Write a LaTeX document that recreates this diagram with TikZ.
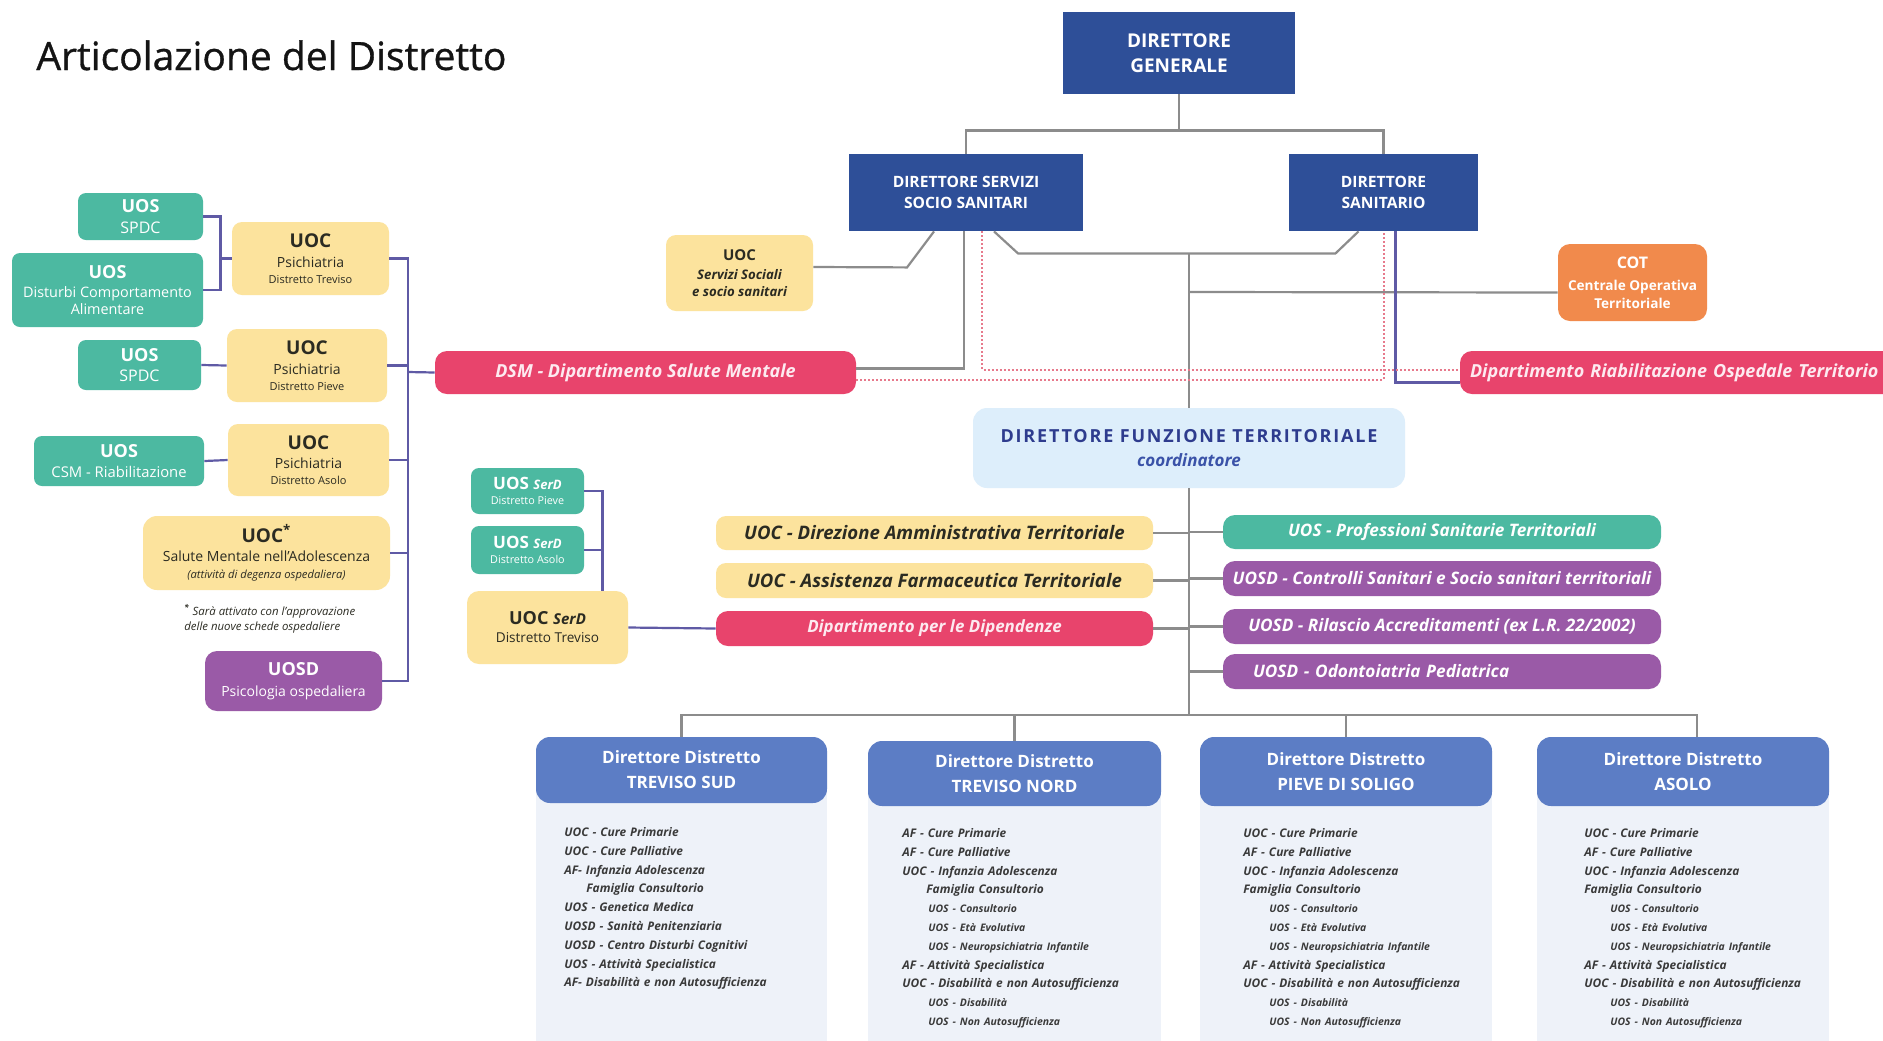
\documentclass[tikz,border=0pt]{standalone}
\usepackage{fontspec}
\setmainfont{Open Sans}
\newfontfamily\titlefont{Open Sans}[FakeBold=0.8]
\usetikzlibrary{calc}
\definecolor{cnavy}{HTML}{2E4F98}
\definecolor{chead}{HTML}{5C7DC5}
\definecolor{cbody}{HTML}{EEF2F9}
\definecolor{cteal}{HTML}{4CB9A1}
\definecolor{cyel}{HTML}{FCE39D}
\definecolor{cpink}{HTML}{E8446C}
\definecolor{cpurp}{HTML}{9A5AA7}
\definecolor{corng}{HTML}{F18A4C}
\definecolor{clblue}{HTML}{DDEEFB}
\definecolor{cgrey}{HTML}{8C8C8C}
\definecolor{cpl}{HTML}{5F5AA5}
\definecolor{cdot}{HTML}{E77A8C}
\definecolor{cdftxt}{HTML}{2E3C8E}
\definecolor{ccoord}{HTML}{3A52A8}
\definecolor{cdark}{HTML}{2B2B22}
\definecolor{cbodytxt}{HTML}{3A3A3A}
\definecolor{cpinktxt}{HTML}{FDEAF0}
\definecolor{ctitle}{HTML}{141414}
\newcommand\fs[2]{\fontsize{#1}{#2}\selectfont}
\newcommand\bx[7]{\node[#6, minimum width={(#4-#2)*0.5pt}, minimum height={(#5-#3)*0.5pt}] (#1) at ({(#2+#4)/2},{(#3+#5)/2}) {#7};}
\newcommand\sbi[1]{\hspace*{13pt}{\fontsize{5.2}{9.4}\selectfont #1}}
\tikzset{
  base/.style={inner sep=0pt, align=center},
  lead/.style={font=\fontsize{7}{#1}\selectfont},
  navy/.style={base, fill=cnavy, text=white},
  yel/.style={base, fill=cyel, rounded corners=5pt, text=cdark},
  tealb/.style={base, fill=cteal, rounded corners=4pt, text=white},
  pinkb/.style={base, fill=cpink, rounded corners=6pt, text=cpinktxt},
  purpb/.style={base, fill=cpurp, rounded corners=5pt, text=white},
  orngb/.style={base, fill=corng, rounded corners=6pt, text=white},
  lblueb/.style={base, fill=clblue, rounded corners=7pt},
  dhead/.style={base, fill=chead, rounded corners=7pt, text=white, font=\bfseries\fs{8.5}{12.6}},
  dtext/.style={anchor=north west, inner sep=0pt, text width=170pt, align=left, font=\bfseries\itshape\fs{5.95}{9.4}, text=cbodytxt},
  gl/.style={draw=cgrey, line width=1.1pt},
  pl/.style={draw=cpl, line width=1.1pt},
  dl/.style={draw=cdot, densely dotted, line width=1pt}
}
\begin{document}
\begin{tikzpicture}[x=0.5pt,y=-0.5pt]
\useasboundingbox (0,0) rectangle (1883,1040);
\clip (0,0) rectangle (1883,1040);
\fill[white] (0,0) rectangle (1883,1040);

% title
\node[anchor=base west, inner sep=0pt, text=ctitle, font=\titlefont\fs{19.5}{23}] (title) at (36,70) {Articolazione del Distretto};

% district bodies
\fill[cbody] (536,770) rectangle (827,1045);
\fill[cbody] (868,773) rectangle (1161,1045);
\fill[cbody] (1200,770) rectangle (1492,1045);
\fill[cbody] (1537,770) rectangle (1829,1045);

% top
\bx{dg}{1063}{12}{1295}{94}{navy,font=\bfseries\fs{9.5}{12.5}}{DIRETTORE\\GENERALE}
\bx{dsss}{849}{154}{1083}{231}{navy,font=\bfseries\fs{7.8}{10.3}}{DIRETTORE SERVIZI\\SOCIO SANITARI}
\bx{ds}{1289}{154}{1478}{231}{navy,font=\bfseries\fs{7.8}{10.3}}{DIRETTORE\\SANITARIO}
\bx{uocss}{666}{235}{813}{311}{yel,lead=8.4}{{\bfseries\fs{7.5}{9}UOC}\\[1.2pt]{\bfseries\itshape\fs{6.6}{8.5}Servizi Sociali}\\{\bfseries\itshape\fs{6.6}{8.5}e socio sanitari}}
\bx{cot}{1558}{244}{1707}{321}{orngb,lead=9}{{\bfseries\fs{8}{10}COT}\\[1.8pt]{\bfseries\fs{6.8}{8}Centrale Operativa}\\{\bfseries\fs{6.8}{8}Territoriale}}
\bx{dsm}{435}{351}{856}{394}{pinkb,font=\bfseries\itshape\fs{9}{10}}{DSM - Dipartimento Salute Mentale}
\bx{dro}{1460}{351}{1900}{394}{pinkb,align=left,text width=210pt,inner xsep=5pt,font=\bfseries\itshape\fs{9}{10}}{Dipartimento Riabilitazione Ospedale Territorio}
\bx{dft}{973}{408}{1405}{488}{lblueb,lead=12}{{\bfseries\color{cdftxt}\fs{9}{12}\addfontfeature{LetterSpace=10}DIRETTORE FUNZIONE TERRITORIALE}\\{\bfseries\itshape\color{ccoord}\fs{8.5}{10}coordinatore}}

% territorial branches
\bx{uocda}{716}{516}{1153}{550}{yel,font=\bfseries\itshape\fs{9.3}{10}}{UOC - Direzione Amministrativa Territoriale}
\bx{uocaf}{716}{563}{1153}{598}{yel,font=\bfseries\itshape\fs{9.3}{10}}{UOC - Assistenza Farmaceutica Territoriale}
\bx{dip}{716}{611}{1153}{646}{pinkb,font=\bfseries\itshape\fs{8.45}{10}}{Dipartimento per le Dipendenze}
\bx{uosps}{1223}{515}{1661}{549}{tealb,rounded corners=6pt,font=\bfseries\itshape\fs{8.6}{10}}{UOS - Professioni Sanitarie Territoriali}
\bx{uosdc}{1223}{561}{1661}{596}{purpb,rounded corners=6pt,font=\bfseries\itshape\fs{8.6}{10}}{UOSD - Controlli Sanitari e Socio sanitari territoriali}
\bx{uosdr}{1223}{609}{1661}{644}{purpb,rounded corners=6pt,font=\bfseries\itshape\fs{8.6}{10}}{UOSD - Rilascio Accreditamenti (ex L.R. 22/2002)}
\bx{uosdo}{1223}{654}{1661}{689}{purpb,rounded corners=6pt,align=left,text width=189pt,inner xsep=15pt,font=\bfseries\itshape\fs{8.6}{10}}{UOSD - Odontoiatria Pediatrica}

% left side
\bx{spdc1}{78}{193}{203}{240}{tealb,lead=10.2}{{\bfseries\fs{9}{11}UOS}\\{\fs{8}{10}SPDC}}
\bx{dca}{12}{253}{203}{327}{tealb,lead=8.4}{{\bfseries\fs{9}{11}UOS}\\[1.2pt]{\fs{7.2}{8.5}Disturbi Comportamento}\\{\fs{7.2}{8.5}Alimentare}}
\bx{uocpt}{232}{222}{389}{295}{yel,lead=8}{{\bfseries\fs{9.5}{11}UOC}\\[1.8pt]{\fs{7}{8.5}Psichiatria}\\{\fs{5.5}{7}Distretto Treviso}}
\bx{spdc2}{78}{340}{201}{390}{tealb,lead=10.2}{{\bfseries\fs{9}{11}UOS}\\{\fs{8}{10}SPDC}}
\bx{uocpp}{227}{329}{387}{402}{yel,lead=8}{{\bfseries\fs{9.5}{11}UOC}\\[1.8pt]{\fs{7}{8.5}Psichiatria}\\{\fs{5.5}{7}Distretto Pieve}}
\bx{csm}{34}{436}{204}{486}{tealb,lead=9.6}{{\bfseries\fs{9}{11}UOS}\\{\fs{7.4}{9}CSM - Riabilitazione}}
\bx{uocpa}{228}{424}{389}{496}{yel,lead=8}{{\bfseries\fs{9.5}{11}UOC}\\[1.8pt]{\fs{7}{8.5}Psichiatria}\\{\fs{5.5}{7}Distretto Asolo}}
\bx{uocadol}{143}{516}{390}{590}{yel,rounded corners=7pt,lead=8.4}{{\bfseries\fs{9.5}{11}UOC\textsuperscript{*}}\\[1.2pt]{\fs{7}{8.5}Salute Mentale nell'Adolescenza}\\{\itshape\fs{5.6}{6}(attività di degenza ospedaliera)}}
\node[anchor=north west, inner sep=0pt, align=left, font=\itshape\fs{5.7}{7.3}, text=cdark] (note) at (184,604) {{\bfseries\textsuperscript{*}} Sarà attivato con l'approvazione\\delle nuove schede ospedaliere};
\bx{psico}{205}{651}{382}{711}{purpb,rounded corners=6pt,lead=10.2}{{\bfseries\fs{9}{11}UOSD}\\{\fs{7}{9}Psicologia ospedaliera}}

% SerD
\bx{serdp}{471}{468}{584}{514}{tealb,lead=7.8}{{\bfseries\fs{8.5}{10}UOS {\itshape\fs{6.5}{8}SerD}}\\{\fs{5.4}{6}Distretto Pieve}}
\bx{serda}{471}{526}{584}{574}{tealb,lead=7.8}{{\bfseries\fs{8.5}{10}UOS {\itshape\fs{6.5}{8}SerD}}\\{\fs{5.4}{6}Distretto Asolo}}
\bx{serdt}{467}{591}{628}{664}{yel,rounded corners=6pt,lead=9}{{\bfseries\fs{9}{11}UOC {\itshape\fs{7.5}{9}SerD}}\\{\fs{6.8}{8}Distretto Treviso}}

% district headers
\bx{d1}{536}{737}{827}{803}{dhead}{Direttore Distretto\\TREVISO SUD}
\bx{d2}{868}{741}{1161}{806}{dhead}{Direttore Distretto\\TREVISO NORD}
\bx{d3}{1200}{737}{1492}{806}{dhead}{Direttore Distretto\\PIEVE DI SOLIGO}
\bx{d4}{1537}{737}{1829}{806}{dhead}{Direttore Distretto\\ASOLO}

% district bodies text
\node[dtext] (t1) at (564,827) {UOC - Cure Primarie\\UOC - Cure Palliative\\AF- Infanzia Adolescenza\\\hspace*{11pt}Famiglia Consultorio\\UOS - Genetica Medica\\UOSD - Sanità Penitenziaria\\UOSD - Centro Disturbi Cognitivi\\UOS - Attività Specialistica\\AF- Disabilità e non Autosufficienza};
\node[dtext] (t2) at (902,828) {AF - Cure Primarie\\AF - Cure Palliative\\UOC - Infanzia Adolescenza\\\hspace*{12pt}Famiglia Consultorio\\\sbi{UOS - Consultorio}\\\sbi{UOS - Età Evolutiva}\\\sbi{UOS - Neuropsichiatria Infantile}\\AF - Attività Specialistica\\UOC - Disabilità e non Autosufficienza\\\sbi{UOS - Disabilità}\\\sbi{UOS - Non Autosufficienza}};
\node[dtext] (t3) at (1243,828) {UOC - Cure Primarie\\AF - Cure Palliative\\UOC - Infanzia Adolescenza\\Famiglia Consultorio\\\sbi{UOS - Consultorio}\\\sbi{UOS - Età Evolutiva}\\\sbi{UOS - Neuropsichiatria Infantile}\\AF - Attività Specialistica\\UOC - Disabilità e non Autosufficienza\\\sbi{UOS - Disabilità}\\\sbi{UOS - Non Autosufficienza}};
\node[dtext] (t4) at (1584,828) {UOC - Cure Primarie\\AF - Cure Palliative\\UOC - Infanzia Adolescenza\\Famiglia Consultorio\\\sbi{UOS - Consultorio}\\\sbi{UOS - Età Evolutiva}\\\sbi{UOS - Neuropsichiatria Infantile}\\AF - Attività Specialistica\\UOC - Disabilità e non Autosufficienza\\\sbi{UOS - Disabilità}\\\sbi{UOS - Non Autosufficienza}};

% ---- connectors: top
\draw[gl] (dg.south) -- ++(0,36) coordinate (tb);
\draw[gl] (dsss.north) |- (tb) -| (ds.north);
\draw[gl] ($(dsss.south)+(-32,0)$) -- ++(-27,36) -- (uocss.east |- 0,267);
\draw[gl] ($(dsss.south)+(-2,0)$) |- ($(dsm.east)+(0,-4)$);
\coordinate (j1) at (1189,253);
\draw[gl] ($(dsss.south)+(28,0)$) -- ++(24,22) -- ($(ds.south)+(-48,22)$) -- ($(ds.south)+(-25,0)$);
\draw[gl] (j1) -- (dft.north);
\draw[gl] (j1 |- 0,292) -- ($(cot.west)+(0,10)$);
\draw[pl] ($(ds.south)+(12,0)$) |- ($(dro.west)+(0,10)$);
\draw[dl] ($(dsm.east)+(0,7)$) -| (ds.south);
\draw[dl] ($(dsss.south)+(16,0)$) |- ($(dro.west)+(0,-3)$);

% territorial trunk
\coordinate (bar) at (1189,715);
\draw[gl] (dft.south) -- (bar);
\foreach \n in {uocda,uocaf,dip} \draw[gl] (\n.east) -- (\n.east -| bar);
\foreach \n in {uosps,uosdc,uosdr,uosdo} \draw[gl] (\n.west -| bar) -- (\n.west);
\draw[gl] (d1.north) |- (bar) -| ($(d4.north)+(14,0)$);
\draw[gl] (d2.north) -- (d2.north |- bar);
\draw[gl] (d3.north) -- (d3.north |- bar);

% left side
\draw[pl] (spdc1.east) -- ++(17,0) coordinate (lb) |- (dca.east);
\draw[pl] (uocpt.west) -- (uocpt.west -| lb);
\draw[pl] (spdc2.east) -- (uocpp.west);
\draw[pl] (csm.east) -- (uocpa.west);
\coordinate (bus) at (408,372);
\draw[pl] (uocpt.east) -| (bus) |- (psico.east);
\draw[pl] (uocpp.east) -- (uocpp.east -| bus);
\draw[pl] (uocpa.east) -- (uocpa.east -| bus);
\draw[pl] (uocadol.east) -- (uocadol.east -| bus);
\draw[pl] (bus) -- (dsm.west);

% SerD
\draw[pl] (serdp.east) -- ++(18,0) coordinate (sb) -- (sb |- serdt.north);
\draw[pl] (serda.east) -- (serda.east -| sb);
\draw[pl] (serdt.east) -- (dip.west);
\end{tikzpicture}
\end{document}
